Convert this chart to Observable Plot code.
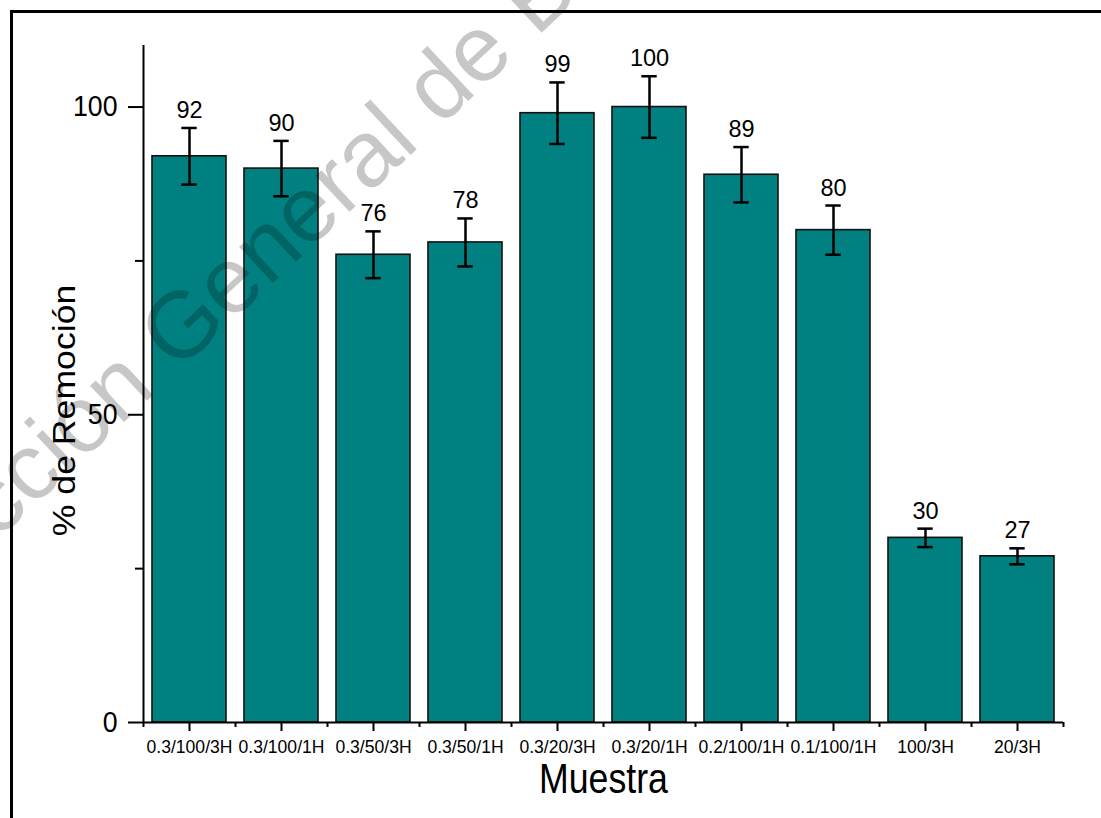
<!DOCTYPE html>
<html><head><meta charset="utf-8">
<script src="https://cdn.jsdelivr.net/npm/d3@7"></script>
<script src="https://cdn.jsdelivr.net/npm/@observablehq/plot@0.6"></script>
<style>
html,body{margin:0;padding:0;background:#fff;}
#wrap{position:relative;width:1101px;height:818px;overflow:hidden;font-family:"Liberation Sans",Arial,Helvetica,sans-serif;background:#fff;}
#chart{position:absolute;left:0;top:0;}
#frame{position:absolute;left:10px;top:10px;width:1200px;height:1000px;border-top:3px solid #000;border-left:3px solid #000;pointer-events:none;}
#wm{position:absolute;left:0;top:0;pointer-events:none;}
</style></head>
<body>
<div id="wrap">
  <div id="chart"></div>
  <svg id="wm" width="1101" height="818"><text transform="translate(-129,658) rotate(-43)" font-size="94" fill="rgba(0,0,0,0.22)" font-family="Liberation Sans, Arial, sans-serif">Dirección General de Bibliotecas</text></svg>
  <div id="frame"></div>
</div>
<script>
// ---- data ----
const muestras = ["0.3/100/3H","0.3/100/1H","0.3/50/3H","0.3/50/1H","0.3/20/3H","0.3/20/1H","0.2/100/1H","0.1/100/1H","100/3H","20/3H"];
const remocion = [92, 90, 76, 78, 99, 100, 89, 80, 30, 27];
const errores  = [4.6, 4.5, 3.8, 3.9, 5.0, 5.0, 4.5, 4.0, 1.5, 1.3];
const yTicks = [0, 50, 100];
const yMinorTicks = [25, 75];
const xTitle = "Muestra";
const yTitle = "% de Remoción";

// ---- layout ----
const W = 1101, H = 818, ML = 143, MR = 38, MT = 45, MB = 96;
const step = (W - ML - MR) / muestras.length;
const bw = step * 0.8;
const capW = 15;
const font = '"Liberation Sans", Arial, Helvetica, sans-serif';

const data = muestras.map((m, i) => ({m, v: remocion[i], e: errores[i]}));

const chart = Plot.plot({
  width: W, height: H,
  marginLeft: ML, marginRight: MR, marginTop: MT, marginBottom: MB,
  style: {fontFamily: font, background: "transparent", color: "#000", overflow: "visible"},
  x: {domain: muestras, paddingInner: 0.2, paddingOuter: 0.1, label: null},
  y: {domain: [0, 110], label: null},
  marks: [
    Plot.barY(data, {x: "m", y: "v", fill: "#008080", stroke: "#111", strokeWidth: 1.6}),
    Plot.ruleX(data, {x: "m", y1: d => d.v - d.e, y2: d => d.v + d.e, stroke: "#000", strokeWidth: 2.5}),
    Plot.tickY(data, {x: "m", y: d => d.v + d.e, inset: (bw - capW) / 2, stroke: "#000", strokeWidth: 2.5}),
    Plot.tickY(data, {x: "m", y: d => d.v - d.e, inset: (bw - capW) / 2, stroke: "#000", strokeWidth: 2.5}),
    Plot.text(data, {x: "m", y: d => d.v + d.e, text: d => String(d.v), dy: -10, lineAnchor: "bottom", fontSize: 23.5, fill: "#000"}),
    Plot.ruleY([0], {stroke: "#000", strokeWidth: 2}),
    Plot.ruleX([muestras[0]], {y1: 0, y2: 110, dx: -step / 2, stroke: "#000", strokeWidth: 2}),
    Plot.axisY({ticks: yTicks, tickSize: 15, tickPadding: 11, fontSize: 29, strokeWidth: 2, label: null}),
    Plot.axisY({ticks: yMinorTicks, tickSize: 8, tickFormat: () => "", strokeWidth: 2, label: null}),
    Plot.axisX({tickSize: 9, tickPadding: 8, fontSize: 18.5, strokeWidth: 2, label: null}),
    Plot.axisX({ticks: muestras, tickSize: 5, tickFormat: () => "", dx: -step / 2, strokeWidth: 2, label: null}),
    Plot.axisX({ticks: [muestras[muestras.length - 1]], tickSize: 5, tickFormat: () => "", dx: step / 2, strokeWidth: 2, label: null}),
    Plot.text([xTitle], {text: d => d, frameAnchor: "bottom", dy: 57, lineAnchor: "middle", textAnchor: "middle", fontSize: 42, fill: "#000"}),
    Plot.text([yTitle], {text: d => d, frameAnchor: "left", dx: -78, dy: 26.5, rotate: -90, lineAnchor: "middle", textAnchor: "middle", fontSize: 31, fill: "#000"})
  ]
});
document.getElementById("chart").appendChild(chart);

function squeezeEl(t, s) {
  const x = parseFloat(t.getAttribute("x")) || 0;
  const old = t.getAttribute("transform") || "";
  t.setAttribute("transform", `${old} translate(${x},0) scale(${s},1) translate(${-x},0)`);
}
function squeeze(sel, s) { chart.querySelectorAll(sel).forEach(t => squeezeEl(t, s)); }
squeeze('g[aria-label="x-axis tick label"] text', 0.95);
squeeze('g[aria-label="y-axis tick label"] text', 0.92);
chart.querySelectorAll("text").forEach(t => {
  if (t.textContent === xTitle) squeezeEl(t, 0.85);
  else if (t.textContent === yTitle) squeezeEl(t, 1.15);
});
</script>
</body></html>
